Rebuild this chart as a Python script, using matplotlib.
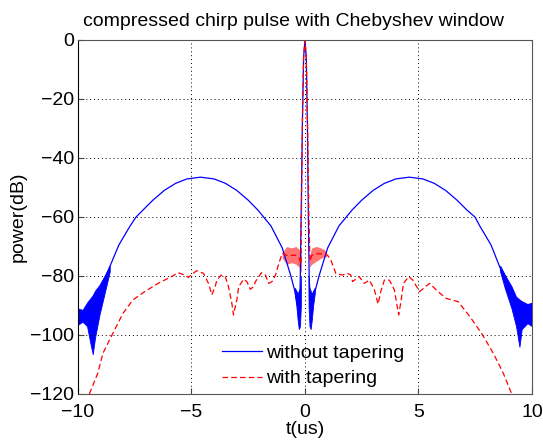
import matplotlib
matplotlib.use("Agg")
from matplotlib import pyplot as plt

plt.rcParams['font.family'] = ['Liberation Sans', 'DejaVu Sans']

# without tapering: sidelobe domes + main lobe (t in us, power in dB)
t_blue = [-10, -9.5, -9.1, -8.77, -8.2, -7.7, -7.44, -7.13, -6.7, -6.2, -5.7,
          -5.2, -4.6, -4.0, -3.5, -3.0, -2.5, -2.08, -1.5, -1.0, -0.62, -0.45,
          -0.3, -0.22, -0.16, -0.11, -0.06, 0.0, 0.06, 0.11, 0.15, 0.2, 0.3,
          0.45, 0.62, 1.0, 1.5, 2.08, 2.5, 3.0, 3.5, 4.0, 4.6, 5.2, 5.7, 6.2,
          6.7, 7.13, 7.49, 7.7, 8.2, 8.74, 9.1, 9.5, 10]
p_blue = [-93.5, -91, -85, -80, -69.5, -63, -60, -57.6, -54.3, -51.0, -48.6,
          -47.1, -46.5, -47.1, -48.6, -51.0, -54.3, -57.6, -63, -70.5, -80, -85,
          -91, -88, -55, -27, -6, 0, -6, -30, -60, -88, -90,
          -85, -80, -70.5, -63, -57.6, -54.3, -51.0, -48.6, -47.1, -46.5, -47.1,
          -48.6, -51.0, -54.3, -57.6, -60, -63, -69.5, -80, -85, -91, -93]

# ripple bands of the untapered response (upper / lower envelope)
t_band_l = [-10, -9.8, -9.6, -9.45, -9.35, -9.25, -9.05, -8.8, -8.6]
up_band_l = [-91, -91.5, -89, -87.5, -86.5, -85, -83, -79.5, -76.5]
lo_band_l = [-96.5, -95.5, -97, -103, -106.5, -101, -93, -85, -78.5]
t_band_r = [8.6, 8.8, 9.1, 9.3, 9.45, 9.55, 9.8, 10]
up_band_r = [-76.5, -79.5, -83.5, -87, -88, -88.5, -89.5, -89]
lo_band_r = [-78.5, -84, -91, -97, -104, -98, -96, -97]
t_band_cl = [-0.45, -0.38, -0.32, -0.27, -0.22, -0.18]
up_band_cl = [-84, -85, -86, -85, -84, -80]
lo_band_cl = [-86, -90, -95, -98, -97, -90]
t_band_cr = [0.16, 0.2, 0.25, 0.3, 0.36, 0.43]
up_band_cr = [-80, -84, -85, -86, -85, -84]
lo_band_cr = [-90, -97, -98, -95, -90, -86]

# with tapering (Chebyshev window)
t_red = [-9.5, -9.13, -8.9, -8.54, -8.02, -7.58, -7.06, -6.47, -5.88, -5.58,
         -5.29, -5.14, -4.92, -4.77, -4.47, -4.25, -4.1, -3.96, -3.88, -3.69,
         -3.51, -3.37, -3.22, -3.15, -3.0, -2.92, -2.7, -2.56, -2.41, -2.26,
         -2.18, -1.92, -1.74, -1.6, -1.45, -1.3, -1.15, -1.0, -0.8, -0.6, -0.4,
         -0.25, -0.17, -0.15, -0.11, -0.06, 0.0, 0.06, 0.12, 0.17, 0.22, 0.3,
         0.5, 0.7, 0.9, 1.0, 1.14, 1.36, 1.65, 1.87, 2.02, 2.1, 2.25, 2.39,
         2.61, 2.84, 3.06, 3.22, 3.35, 3.5, 3.72, 3.94, 4.13, 4.24, 4.34, 4.58,
         4.75, 5.05, 5.49, 5.86, 6.23, 6.75, 7.27, 7.78, 8.3, 8.74, 9.11, 9.3]
p_red = [-120, -113, -106.2, -100.6, -92.7, -88.1, -85.3, -82.5, -80.2, -78.9,
         -79.7, -80.5, -79.1, -78.2, -79.1, -82.5, -86.4, -83.6, -81.4, -79.7,
         -80.2, -83.6, -89.3, -93.2, -88.1, -83.6, -81.1, -81.9, -84.5, -83.6,
         -81.9, -78.9, -79.7, -82.5, -81.9, -79.7, -75.7, -72.3, -73, -73, -73,
         -74, -76, -55, -27, -6, 0, -6, -30, -58, -75, -73,
         -72.5, -72.5, -72.5, -73, -74.6, -79.1, -79.7, -79.1, -79.7, -81.9, -81,
         -80.2, -82.5, -81.4, -84.7, -89.5, -85, -81.4, -81.4, -84.7, -93.2,
         -88.1, -82.5, -80.2, -81.4, -85.3, -82.5, -85.3, -87.6, -88.7, -93.8,
         -99.4, -106.2, -113, -120, -125]

# near-in ripple plateau of the tapered response
t_plat_l = [-1.0, -0.8, -0.6, -0.4, -0.25, -0.15]
up_plat_l = [-72, -70, -70.5, -70, -71, -73]
lo_plat_l = [-74, -76, -75.5, -76, -77, -79]
t_plat_r = [0.2, 0.3, 0.5, 0.7, 0.85, 0.95]
up_plat_r = [-73, -70.5, -70, -70.5, -71, -72]
lo_plat_r = [-77, -76, -75, -74, -73.5, -73.5]

xticks = [-10, -5, 0, 5, 10]
yticks = [-120, -100, -80, -60, -40, -20, 0]

fig = plt.figure(figsize=(5.43, 4.41), dpi=100)
ax = fig.add_axes([0.1436, 0.1066, 0.836, 0.8027])

blue = (0, 0, 1)
red = (1, 0, 0)

ax.plot(t_blue, p_blue, color=blue, lw=0.9, label='without tapering')
for tb, up, lo in [(t_band_l, up_band_l, lo_band_l),
                   (t_band_r, up_band_r, lo_band_r),
                   (t_band_cl, up_band_cl, lo_band_cl),
                   (t_band_cr, up_band_cr, lo_band_cr)]:
    ax.fill_between(tb, lo, up, color=blue, lw=0.6, edgecolor=blue)

for tb, up, lo in [(t_plat_l, up_plat_l, lo_plat_l),
                   (t_plat_r, up_plat_r, lo_plat_r)]:
    ax.fill_between(tb, lo, up, color=red, alpha=0.55, lw=0)
ax.plot(t_red, p_red, color=red, lw=0.9, dashes=(4.5, 2.5),
        label='with tapering')

ax.set_xlim(-10, 10)
ax.set_ylim(-120, 0)
ax.set_xticks(xticks)
ax.set_yticks(yticks)
ax.grid(True, color='black', linestyle=(0, (1, 3)), lw=0.7)
ax.tick_params(direction='in', length=4, labelsize=14, pad=3, color='#444444')
ax.tick_params(axis='x', pad=7)
for side in ['top', 'right', 'bottom']:
    ax.spines[side].set_color('#555555')
ax.spines['left'].set_color('black')

ax.set_title('compressed chirp pulse with Chebyshev window', fontsize=14,
             pad=10, x=0.475)
ax.set_xlabel('t(us)', fontsize=14, labelpad=0)
ax.set_ylabel('power(dB)', fontsize=14, labelpad=2)

leg = ax.legend(loc='upper left', bbox_to_anchor=(0.317, 0.14), frameon=False,
                fontsize=14, handlelength=2.05, handletextpad=0.2,
                labelspacing=0.4, borderpad=0, borderaxespad=0)

fig.savefig('out.png', dpi=100)
